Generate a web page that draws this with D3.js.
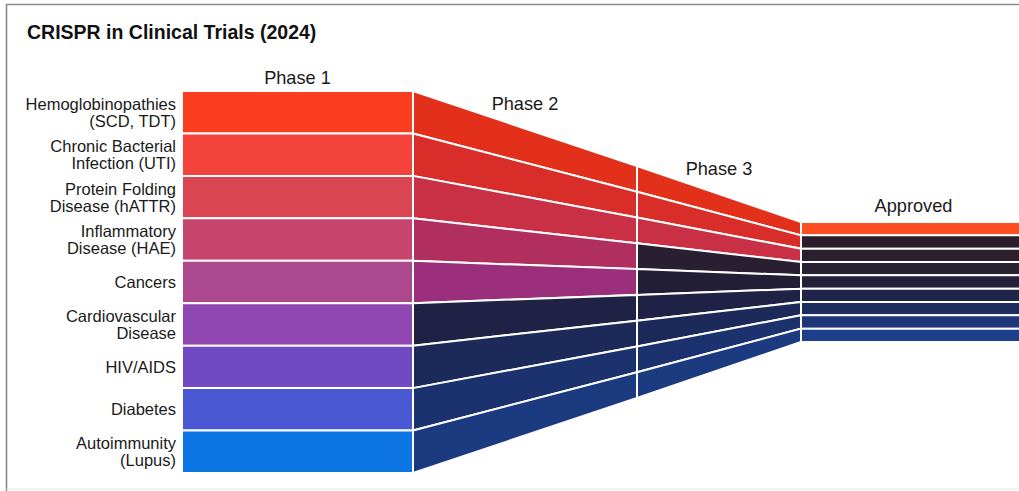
<!DOCTYPE html>
<html>
<head>
<meta charset="utf-8">
<script src="https://cdn.jsdelivr.net/npm/d3@7"></script>
<style>
  html, body { margin: 0; padding: 0; background: #fff; }
  svg { display: block; font-family: "Liberation Sans", Arial, sans-serif; }
</style>
</head>
<body>
<svg id="chart" width="1019" height="491"></svg>
<script>
// categories (two-line labels split on "\n")
const categories = [
  "Hemoglobinopathies\n(SCD, TDT)",
  "Chronic Bacterial\nInfection (UTI)",
  "Protein Folding\nDisease (hATTR)",
  "Inflammatory\nDisease (HAE)",
  "Cancers",
  "Cardiovascular\nDisease",
  "HIV/AIDS",
  "Diabetes",
  "Autoimmunity\n(Lupus)"
];
const phases = ["Phase 1", "Phase 2", "Phase 3", "Approved"];
// furthest phase reached by each category (index into phases)
const furthest = [3, 2, 2, 1, 1, 0, 0, 0, 0];
// relative funnel span at each phase boundary (start of P1 .. end of Approved)
const funnelSpan = [1, 1, 0.607, 0.314, 0.314];

// colours
const baseColors = ["#fb3d1f", "#f4433a", "#da4552", "#c6466f", "#ab488e", "#9147b1", "#7149c4", "#4b58d4", "#0d74e4"];
const trialColors = ["#e2301b", "#d82d28", "#c93046", "#b02f5e", "#9c2f7c", "#8a2fa0", "#6a30b0", "#4038c0", "#1050c8"];
const approvedColors = ["#fd4e22", "#e84030", "#d03848", "#b83862", "#a0387e", "#8838a0", "#6838b0", "#4040c0", "#1858d0"];
const darkColors = ["#2b1d2a", "#2b1d29", "#2a1e2c", "#281f30", "#231e38", "#1f2245", "#1c2a5a", "#1b326f", "#1b3a80"];

const svg = d3.select("#chart");

// frame
svg.append("path")
  .attr("d", "M1019,4.5 H6.5 V491")
  .attr("fill", "none")
  .attr("stroke", "#8a8a8a")
  .attr("stroke-width", 1.6);
svg.append("line")
  .attr("x1", 6.5).attr("x2", 1019).attr("y1", 489).attr("y2", 489)
  .attr("stroke", "#e4e4e4").attr("stroke-width", 1.2);

svg.append("text")
  .attr("x", 27).attr("y", 39)
  .attr("font-size", 19.5).attr("font-weight", "bold")
  .attr("fill", "#111")
  .text("CRISPR in Clinical Trials (2024)");

const x = d3.scaleLinear()
  .domain([0, 1, 2, 3, 4])
  .range([182, 413, 637, 801, 1027]);
const span = d3.scaleLinear().domain([0, 1]).range([0, 382]);
const centerY = 282;
const n = categories.length;

function rowY(boundary, i) {
  const s = span(funnelSpan[boundary]);
  return centerY - s / 2 + i * s / n;
}

function fillFor(p, i) {
  if (p === 0) return baseColors[i];
  if (furthest[i] < p) {
    const c = d3.color(darkColors[i]);
    return p === 3 ? c.brighter(0.25 * i / n).formatHex() : c.formatHex();
  }
  return p === 3 ? approvedColors[i] : trialColors[i];
}

const cells = [];
phases.forEach((ph, p) => {
  categories.forEach((c, i) => cells.push({ p, i }));
});

svg.append("g").selectAll("path")
  .data(cells)
  .join("path")
  .attr("d", d => {
    const x0 = x(d.p), x1 = x(d.p + 1);
    return "M" + x0 + "," + rowY(d.p, d.i) +
      "L" + x1 + "," + rowY(d.p + 1, d.i) +
      "L" + x1 + "," + rowY(d.p + 1, d.i + 1) +
      "L" + x0 + "," + rowY(d.p, d.i + 1) + "Z";
  })
  .attr("fill", d => fillFor(d.p, d.i))
  .attr("stroke", "#fff")
  .attr("stroke-width", 2)
  .attr("stroke-linejoin", "miter");

// category labels
const lab = svg.append("g")
  .attr("font-size", 16.5)
  .attr("fill", "#1a1a1a")
  .attr("text-anchor", "end");
categories.forEach((c, i) => {
  const lines = c.split("\n");
  const cy = (rowY(0, i) + rowY(0, i + 1)) / 2;
  const t = lab.append("text").attr("x", 176);
  lines.forEach((ln, k) => {
    t.append("tspan")
      .attr("x", 176)
      .attr("y", cy + 6 + (k - (lines.length - 1) / 2) * 17)
      .text(ln);
  });
});

// phase labels
phases.forEach((ph, p) => {
  const cx = (x(p) + Math.min(x(p + 1), 1019 + 7)) / 2;
  const t = svg.append("text")
    .attr("x", cx)
    .attr("text-anchor", "middle")
    .attr("font-size", 18.2)
    .attr("fill", "#1a1a1a")
    .text(ph);
  const w = t.node().getComputedTextLength();
  const lx = cx - w / 2;
  const f = (lx - x(p)) / (x(p + 1) - x(p));
  const top = rowY(p, 0) + f * (rowY(p + 1, 0) - rowY(p, 0));
  t.attr("y", top - (p === 3 ? 10 : 7.5));
});
</script>
</body>
</html>
